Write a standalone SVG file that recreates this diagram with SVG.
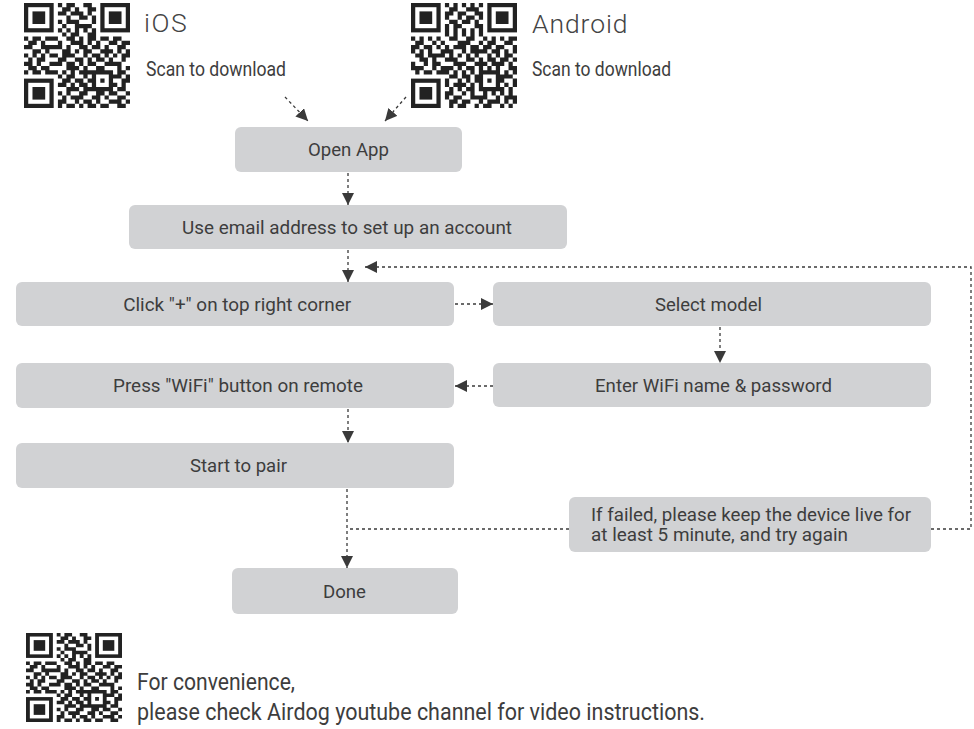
<svg xmlns="http://www.w3.org/2000/svg" xmlns:xlink="http://www.w3.org/1999/xlink" width="974" height="729" viewBox="0 0 974 729">
<style>
.box{fill:#d1d2d4;}
.t{font-family:Roboto,"Liberation Sans",sans-serif;font-size:18.5px;fill:#3d3d3d;}
.s{font-family:Roboto,"Liberation Sans",sans-serif;font-size:19.5px;fill:#3d3d3d;}
.f{font-family:Roboto,"Liberation Sans",sans-serif;font-size:17.5px;fill:#3d3d3d;}
.b{font-family:Roboto,"Liberation Sans",sans-serif;font-size:23px;fill:#3d3d3d;}
.c{text-anchor:middle;}
.big{font-family:Roboto,"Liberation Sans",sans-serif;font-size:26.5px;fill:#444;font-weight:300;letter-spacing:1.5px;}
.con{fill:none;stroke:#3a3a3a;stroke-width:1.3;stroke-dasharray:3 3;}
.qd{fill:none;stroke:#222;stroke-width:1;}
.qf{fill:#222;}
</style>
<defs>
<marker id="ah" markerUnits="userSpaceOnUse" markerWidth="12" markerHeight="12" refX="12" refY="6" orient="auto" viewBox="0 0 12 12">
<path d="M0,0 L12,6 L0,12 z" fill="#3a3a3a"/>
</marker>
<symbol id="qr" viewBox="0 0 25 25" preserveAspectRatio="none">
<rect x="0" y="0" width="25" height="25" fill="#fff"/>
<g class="qd">
<rect x="0.5" y="0.5" width="6" height="6"/>
<rect x="18.5" y="0.5" width="6" height="6"/>
<rect x="0.5" y="18.5" width="6" height="6"/>
</g>
<g class="qf">
<rect x="2" y="2" width="3" height="3"/>
<rect x="20" y="2" width="3" height="3"/>
<rect x="2" y="20" width="3" height="3"/>
</g>
<path class="qd" d="M8 .5h1M10 .5h2M14 .5h2M9 1.5h2M12 1.5h1M15 1.5h2M8 2.5h2M11 2.5h3M15 2.5h1M10 3.5h1M13 3.5h2M16 3.5h1M8 4.5h1M10 4.5h3M16 4.5h1M9 5.5h1M12 5.5h4M8 6.5h1M10 6.5h1M12 6.5h1M14 6.5h1M16 6.5h1M9 7.5h1M11 7.5h2M15 7.5h2M0 8.5h1M2 8.5h2M5 8.5h3M10 8.5h2M13 8.5h1M15 8.5h2M18 8.5h2M21 8.5h2M1 9.5h2M4 9.5h1M8 9.5h1M11 9.5h3M15 9.5h1M17 9.5h1M20 9.5h2M23 9.5h2M0 10.5h2M4 10.5h5M10 10.5h1M13 10.5h2M16 10.5h2M19 10.5h1M22 10.5h2M2 11.5h2M5 11.5h1M9 11.5h2M12 11.5h1M14 11.5h2M18 11.5h3M22 11.5h1M24 11.5h1M0 12.5h1M2 12.5h1M4 12.5h1M6 12.5h2M9 12.5h3M14 12.5h1M16 12.5h2M19 12.5h1M21 12.5h1M23 12.5h2M1 13.5h1M3 13.5h2M8 13.5h2M12 13.5h2M15 13.5h1M17 13.5h2M20 13.5h1M23 13.5h1M0 14.5h2M3 14.5h1M6 14.5h3M10 14.5h2M13 14.5h1M15 14.5h2M19 14.5h4M1 15.5h2M4 15.5h2M10 15.5h3M14 15.5h1M17 15.5h2M22 15.5h1M24 15.5h1M0 16.5h1M2 16.5h2M5 16.5h3M9 16.5h1M11 16.5h1M13 16.5h8M22 16.5h2M8 17.5h1M10 17.5h2M14 17.5h1M16 17.5h1M20 17.5h3M24 17.5h1M9 18.5h2M12 18.5h2M15 18.5h2M18 18.5h1M20 18.5h1M23 18.5h2M8 19.5h2M11 19.5h1M13 19.5h2M16 19.5h1M20 19.5h2M23 19.5h1M10 20.5h3M14 20.5h7M22 20.5h2M8 21.5h1M10 21.5h1M13 21.5h2M17 21.5h2M20 21.5h2M24 21.5h1M9 22.5h1M11 22.5h3M16 22.5h2M19 22.5h1M22 22.5h2M8 23.5h2M12 23.5h1M14 23.5h2M17 23.5h1M20 23.5h3M24 23.5h1M8 24.5h1M10 24.5h2M13 24.5h1M15 24.5h2M18 24.5h2M22 24.5h2"/>
</symbol>
</defs>
<rect width="974" height="729" fill="#fff"/>

<g id="ios">
<use xlink:href="#qr" href="#qr" x="24" y="3" width="106" height="105"/>
<text class="big" x="144" y="32">iOS</text>
<text class="s" x="146" y="75.5" textLength="140" lengthAdjust="spacingAndGlyphs">Scan to download</text>
</g>
<g id="android">
<g transform="translate(411,3) scale(4.24,4.2) matrix(0,1,1,0,0,0)"><use xlink:href="#qr" href="#qr" x="0" y="0" width="25" height="25"/></g>
<text class="big" x="532" y="33" textLength="97">Android</text>
<text class="s" x="532" y="75.5" textLength="139" lengthAdjust="spacingAndGlyphs">Scan to download</text>
</g>

<g id="n-open"><rect class="box" x="235" y="127" width="227" height="45" rx="6"/><text class="t c" x="348.5" y="156" textLength="81" lengthAdjust="spacingAndGlyphs">Open App</text></g>
<g id="n-email"><rect class="box" x="129" y="205" width="438" height="44" rx="6"/><text class="t c" x="347" y="234" textLength="330" lengthAdjust="spacingAndGlyphs">Use email address to set up an account</text></g>
<g id="n-click"><rect class="box" x="16" y="282" width="438" height="44" rx="6"/><text class="t c" x="237.2" y="311" textLength="228" lengthAdjust="spacingAndGlyphs">Click "+" on top right corner</text></g>
<g id="n-select"><rect class="box" x="493" y="282" width="438" height="44" rx="6"/><text class="t c" x="708.5" y="311" textLength="107" lengthAdjust="spacingAndGlyphs">Select model</text></g>
<g id="n-enter"><rect class="box" x="493" y="363" width="438" height="44" rx="6"/><text class="t c" x="713.5" y="392" textLength="237" lengthAdjust="spacingAndGlyphs">Enter WiFi name &amp; password</text></g>
<g id="n-press"><rect class="box" x="16" y="363" width="438" height="45" rx="6"/><text class="t c" x="238" y="392" textLength="250" lengthAdjust="spacingAndGlyphs">Press "WiFi" button on remote</text></g>
<g id="n-start"><rect class="box" x="16" y="443" width="438" height="45" rx="6"/><text class="t c" x="238.5" y="472" textLength="97" lengthAdjust="spacingAndGlyphs">Start to pair</text></g>
<g id="n-failed"><rect class="box" x="569" y="497" width="362" height="55" rx="6"/>
<text class="f" x="591" y="520.5" textLength="320" lengthAdjust="spacingAndGlyphs">If failed, please keep the device live for</text>
<text class="f" x="591" y="541" textLength="257" lengthAdjust="spacingAndGlyphs">at least 5 minute, and try again</text></g>
<g id="n-done"><rect class="box" x="232" y="568" width="226" height="46" rx="6"/><text class="t c" x="344.5" y="597.5" textLength="43" lengthAdjust="spacingAndGlyphs">Done</text></g>

<g id="youtube">
<use xlink:href="#qr" href="#qr" x="26" y="633" width="96" height="89"/>
<text class="b" x="137" y="689.5" textLength="158" lengthAdjust="spacingAndGlyphs">For convenience,</text>
<text class="b" x="137" y="720" textLength="568" lengthAdjust="spacingAndGlyphs">please check Airdog youtube channel for video instructions.</text>
</g>

<g id="connectors">
<path class="con" d="M285,97 L308,121" marker-end="url(#ah)"/>
<path class="con" d="M406,97 L385,121" marker-end="url(#ah)"/>
<path class="con" d="M348,173 V205" marker-end="url(#ah)"/>
<path class="con" d="M348,250 V282" marker-end="url(#ah)"/>
<path class="con" d="M455,304 H493" marker-end="url(#ah)"/>
<path class="con" d="M720,327 V363" marker-end="url(#ah)"/>
<path class="con" d="M493,386 H455" marker-end="url(#ah)"/>
<path class="con" d="M348,409 V443" marker-end="url(#ah)"/>
<path class="con" d="M347,489 V568" marker-end="url(#ah)"/>
<path class="con" d="M569,529 H347"/>
<path class="con" d="M931,529 H971 V267 H365" marker-end="url(#ah)"/>
</g>
</svg>
